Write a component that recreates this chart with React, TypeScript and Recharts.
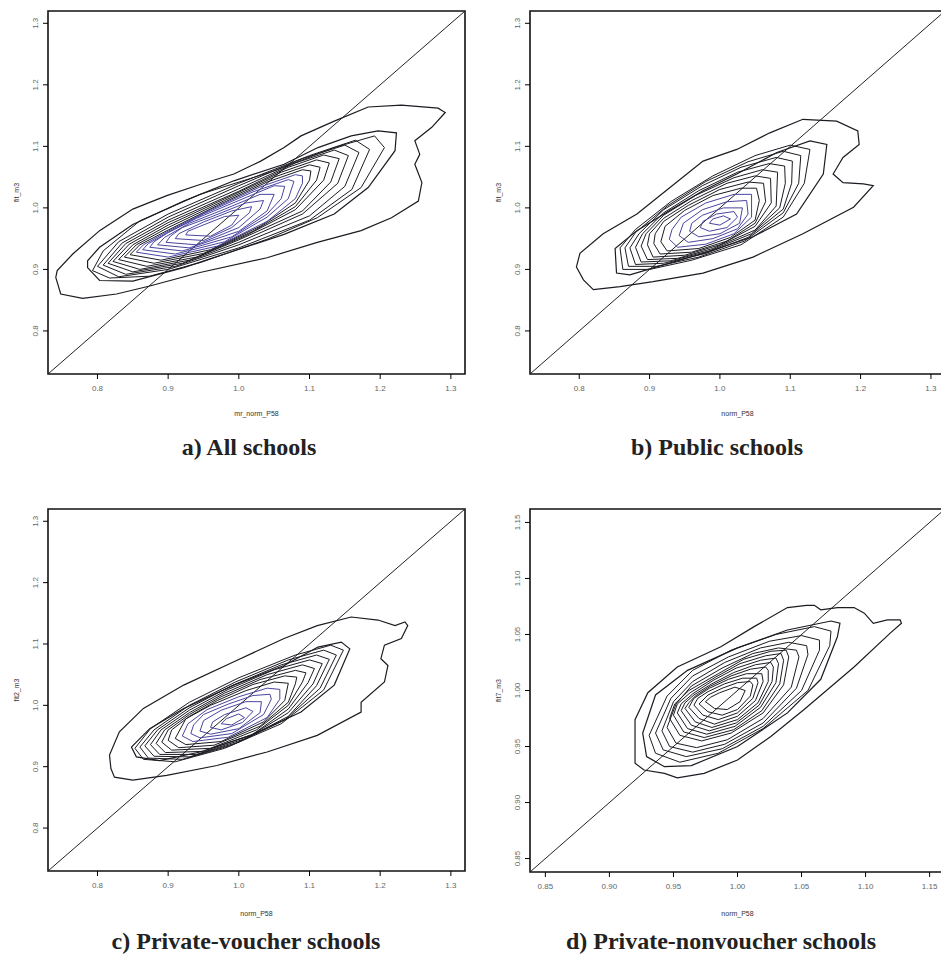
import { ScatterChart, Scatter, XAxis, YAxis, ReferenceArea, ReferenceLine } from 'recharts'

type Pt = [number, number]

// axis ticks
const ticksWide = [0.8, 0.9, 1.0, 1.1, 1.2, 1.3]
const ticksNarrow = [0.85, 0.9, 0.95, 1.0, 1.05, 1.1, 1.15]
const domainWide: [number, number] = [0.73, 1.32]
const domainNarrow: [number, number] = [0.838, 1.162]

// a) All schools - contour rings, outermost first
const a1: Pt[] = [[0.741,0.887],[0.748,0.860],[0.779,0.853],[0.827,0.860],[0.874,0.873],[0.945,0.895],[1.040,0.919],[1.111,0.944],[1.173,0.963],[1.216,0.984],[1.254,1.011],[1.259,1.041],[1.249,1.071],[1.256,1.087],[1.249,1.109],[1.273,1.131],[1.292,1.155],[1.282,1.162],[1.230,1.167],[1.183,1.164],[1.135,1.141],[1.088,1.117],[1.064,1.098],[1.031,1.076],[0.993,1.055],[0.945,1.038],[0.898,1.020],[0.850,0.998],[0.803,0.963],[0.765,0.925],[0.743,0.898]]
const a2: Pt[] = [[0.786,0.903],[0.803,0.882],[0.850,0.881],[0.922,0.903],[0.993,0.930],[1.064,0.957],[1.135,0.990],[1.183,1.033],[1.221,1.093],[1.223,1.122],[1.197,1.125],[1.159,1.117],[1.112,1.098],[1.064,1.071],[0.993,1.044],[0.922,1.011],[0.850,0.973],[0.803,0.936],[0.786,0.914]]
const a3: Pt[] = [[0.793,0.898],[0.817,0.886],[0.874,0.889],[0.945,0.911],[1.040,0.949],[1.111,0.984],[1.173,1.033],[1.206,1.098],[1.192,1.117],[1.135,1.098],[1.050,1.060],[0.945,1.022],[0.860,0.979],[0.808,0.930]]
const a4: Pt[] = [[0.800,0.905],[0.830,0.888],[0.900,0.900],[1.000,0.935],[1.100,0.980],[1.160,1.030],[1.185,1.095],[1.165,1.110],[1.100,1.085],[1.000,1.040],[0.900,0.990],[0.830,0.945]]
const a5: Pt[] = [[0.808,0.907],[0.840,0.892],[0.910,0.905],[1.000,0.940],[1.100,0.987],[1.150,1.035],[1.170,1.090],[1.150,1.102],[1.090,1.080],[1.000,1.036],[0.900,0.985],[0.835,0.943]]
const a6: Pt[] = [[0.815,0.910],[0.850,0.896],[0.920,0.910],[1.000,0.944],[1.090,0.990],[1.140,1.040],[1.155,1.085],[1.135,1.094],[1.080,1.073],[1.000,1.031],[0.900,0.980],[0.840,0.942]]
const a7: Pt[] = [[0.822,0.913],[0.860,0.900],[0.930,0.915],[1.000,0.948],[1.090,0.995],[1.130,1.042],[1.142,1.080],[1.120,1.086],[1.070,1.066],[1.000,1.027],[0.900,0.976],[0.845,0.941]]
const a8: Pt[] = [[0.830,0.916],[0.870,0.905],[0.940,0.920],[1.010,0.955],[1.080,0.997],[1.120,1.045],[1.128,1.073],[1.110,1.078],[1.060,1.058],[0.990,1.020],[0.900,0.972],[0.850,0.940]]
const a9: Pt[] = [[0.838,0.920],[0.880,0.910],[0.950,0.926],[1.020,0.962],[1.080,1.002],[1.110,1.045],[1.115,1.066],[1.100,1.070],[1.050,1.050],[0.980,1.012],[0.900,0.968],[0.855,0.940]]
const a10: Pt[] = [[0.846,0.924],[0.890,0.915],[0.960,0.932],[1.030,0.970],[1.080,1.008],[1.100,1.045],[1.102,1.060],[1.090,1.062],[1.040,1.042],[0.970,1.004],[0.900,0.964],[0.860,0.940]]
const a11: Pt[] = [[0.855,0.928],[0.900,0.920],[0.970,0.938],[1.040,0.978],[1.080,1.015],[1.090,1.040],[1.090,1.052],[1.080,1.054],[1.030,1.034],[0.960,0.997],[0.900,0.962],[0.865,0.940]]
const a12: Pt[] = [[0.864,0.932],[0.910,0.925],[0.980,0.945],[1.040,0.985],[1.070,1.015],[1.078,1.043],[1.070,1.046],[1.020,1.026],[0.950,0.990],[0.900,0.960],[0.872,0.942]]
const a13: Pt[] = [[0.874,0.936],[0.920,0.930],[0.990,0.953],[1.040,0.990],[1.060,1.015],[1.065,1.035],[1.050,1.036],[1.000,1.012],[0.940,0.983],[0.900,0.960],[0.880,0.945]]
const a14: Pt[] = [[0.885,0.940],[0.930,0.935],[1.000,0.962],[1.040,0.995],[1.050,1.022],[1.030,1.022],[0.980,0.998],[0.930,0.975],[0.895,0.952]]
const a15: Pt[] = [[0.897,0.944],[0.940,0.940],[1.000,0.968],[1.030,0.998],[1.035,1.012],[1.010,1.008],[0.960,0.985],[0.920,0.968],[0.903,0.954]]
const a16: Pt[] = [[0.910,0.950],[0.950,0.947],[0.990,0.968],[1.015,0.992],[1.018,1.002],[0.990,0.995],[0.950,0.977],[0.915,0.958]]
const a17: Pt[] = [[0.925,0.956],[0.960,0.954],[0.990,0.972],[1.000,0.988],[0.980,0.986],[0.945,0.970],[0.928,0.962]]

// b) Public schools
const b1: Pt[] = [[0.796,0.904],[0.806,0.883],[0.820,0.867],[0.858,0.872],[0.905,0.880],[0.976,0.894],[1.047,0.920],[1.118,0.958],[1.190,1.001],[1.218,1.036],[1.204,1.039],[1.175,1.041],[1.161,1.055],[1.175,1.082],[1.198,1.103],[1.196,1.125],[1.166,1.141],[1.118,1.144],[1.071,1.122],[1.024,1.095],[0.976,1.076],[0.929,1.033],[0.882,0.990],[0.834,0.958],[0.801,0.926]]
const b2: Pt[] = [[0.851,0.934],[0.853,0.894],[0.872,0.891],[0.910,0.904],[0.976,0.926],[1.047,0.953],[1.109,0.990],[1.147,1.055],[1.152,1.103],[1.128,1.109],[1.081,1.090],[1.024,1.055],[0.976,1.028],[0.929,0.996],[0.882,0.963]]
const b3: Pt[] = [[0.858,0.935],[0.862,0.900],[0.900,0.900],[0.960,0.915],[1.030,0.940],[1.090,0.985],[1.120,1.040],[1.128,1.095],[1.100,1.102],[1.050,1.085],[0.990,1.052],[0.930,1.010],[0.880,0.965]]
const b4: Pt[] = [[0.865,0.935],[0.870,0.905],[0.910,0.905],[0.970,0.920],[1.035,0.946],[1.090,0.992],[1.112,1.040],[1.115,1.085],[1.090,1.092],[1.040,1.075],[0.980,1.043],[0.925,1.003],[0.880,0.960]]
const b5: Pt[] = [[0.872,0.935],[0.880,0.908],[0.920,0.910],[0.980,0.926],[1.040,0.952],[1.090,0.998],[1.102,1.040],[1.103,1.076],[1.080,1.082],[1.030,1.066],[0.975,1.036],[0.920,0.997],[0.885,0.958]]
const b6: Pt[] = [[0.880,0.936],[0.888,0.912],[0.930,0.914],[0.985,0.930],[1.045,0.958],[1.085,1.000],[1.093,1.040],[1.092,1.068],[1.070,1.072],[1.025,1.058],[0.970,1.028],[0.920,0.992],[0.890,0.958]]
const b7: Pt[] = [[0.888,0.938],[0.897,0.916],[0.940,0.918],[0.990,0.934],[1.050,0.964],[1.080,1.003],[1.082,1.058],[1.060,1.062],[1.020,1.049],[0.965,1.020],[0.920,0.988],[0.895,0.958]]
const b8: Pt[] = [[0.897,0.940],[0.905,0.920],[0.950,0.923],[1.000,0.940],[1.050,0.970],[1.073,1.008],[1.072,1.048],[1.050,1.052],[1.010,1.040],[0.960,1.012],[0.920,0.983],[0.900,0.958]]
const b9: Pt[] = [[0.906,0.942],[0.915,0.925],[0.960,0.928],[1.010,0.946],[1.050,0.975],[1.065,1.010],[1.062,1.040],[1.040,1.042],[1.000,1.030],[0.955,1.004],[0.920,0.978],[0.908,0.958]]
const b10: Pt[] = [[0.916,0.945],[0.925,0.930],[0.970,0.934],[1.015,0.952],[1.050,0.980],[1.056,1.012],[1.052,1.032],[1.030,1.032],[0.990,1.020],[0.950,0.996],[0.922,0.970]]
const b11: Pt[] = [[0.928,0.949],[0.940,0.936],[0.980,0.941],[1.020,0.958],[1.045,0.985],[1.045,1.022],[1.020,1.022],[0.980,1.008],[0.945,0.985],[0.932,0.965]]
const b12: Pt[] = [[0.942,0.955],[0.955,0.944],[0.990,0.950],[1.025,0.966],[1.040,0.990],[1.038,1.012],[1.010,1.010],[0.975,0.997],[0.948,0.975]]
const b13: Pt[] = [[0.957,0.962],[0.970,0.953],[1.000,0.958],[1.028,0.975],[1.032,1.000],[1.005,1.000],[0.975,0.988],[0.960,0.975]]
const b14: Pt[] = [[0.972,0.968],[0.985,0.962],[1.010,0.968],[1.025,0.985],[1.020,0.994],[0.995,0.990],[0.976,0.978]]
const b15: Pt[] = [[0.985,0.975],[1.000,0.972],[1.015,0.982],[1.005,0.987],[0.990,0.982]]

// c) Private-voucher schools
const c1: Pt[] = [[0.819,0.897],[0.824,0.883],[0.850,0.878],[0.898,0.886],[0.969,0.902],[1.040,0.924],[1.111,0.951],[1.173,0.989],[1.173,1.005],[1.206,1.038],[1.211,1.065],[1.201,1.076],[1.206,1.098],[1.230,1.109],[1.239,1.130],[1.235,1.136],[1.221,1.130],[1.197,1.139],[1.159,1.144],[1.111,1.130],[1.064,1.109],[0.993,1.071],[0.922,1.033],[0.865,0.995],[0.831,0.957],[0.817,0.919]]
const c2: Pt[] = [[0.848,0.932],[0.855,0.916],[0.888,0.910],[0.945,0.924],[1.017,0.951],[1.088,0.989],[1.135,1.033],[1.157,1.092],[1.145,1.103],[1.112,1.095],[1.064,1.065],[0.993,1.033],[0.922,0.995],[0.874,0.962]]
const c3: Pt[] = [[0.853,0.930],[0.865,0.912],[0.910,0.908],[0.980,0.930],[1.060,0.970],[1.120,1.025],[1.148,1.090],[1.130,1.098],[1.080,1.082],[1.000,1.045],[0.930,1.005],[0.875,0.962]]
const c4: Pt[] = [[0.860,0.932],[0.872,0.914],[0.920,0.912],[0.990,0.935],[1.065,0.976],[1.115,1.028],[1.138,1.082],[1.120,1.090],[1.070,1.074],[0.995,1.038],[0.930,1.000],[0.880,0.960]]
const c5: Pt[] = [[0.867,0.934],[0.880,0.917],[0.930,0.916],[1.000,0.940],[1.070,0.982],[1.110,1.032],[1.128,1.075],[1.110,1.082],[1.060,1.066],[0.990,1.032],[0.930,0.996],[0.885,0.960]]
const c6: Pt[] = [[0.875,0.936],[0.888,0.920],[0.940,0.920],[1.010,0.946],[1.070,0.988],[1.105,1.035],[1.118,1.068],[1.100,1.074],[1.050,1.058],[0.985,1.026],[0.930,0.992],[0.890,0.960]]
const c7: Pt[] = [[0.883,0.938],[0.896,0.923],[0.950,0.925],[1.020,0.953],[1.070,0.994],[1.098,1.037],[1.107,1.060],[1.090,1.066],[1.040,1.050],[0.980,1.020],[0.930,0.988],[0.895,0.960]]
const c8: Pt[] = [[0.891,0.940],[0.905,0.927],[0.960,0.930],[1.025,0.960],[1.070,1.000],[1.090,1.038],[1.095,1.053],[1.080,1.057],[1.030,1.042],[0.975,1.014],[0.930,0.985],[0.900,0.960]]
const c9: Pt[] = [[0.900,0.943],[0.915,0.931],[0.965,0.935],[1.030,0.966],[1.070,1.005],[1.080,1.035],[1.082,1.046],[1.065,1.048],[1.020,1.034],[0.970,1.008],[0.930,0.982],[0.905,0.960]]
const c10: Pt[] = [[0.910,0.946],[0.925,0.936],[0.975,0.941],[1.035,0.973],[1.065,1.008],[1.070,1.036],[1.050,1.038],[1.010,1.024],[0.960,1.000],[0.925,0.978]]
const c11: Pt[] = [[0.920,0.950],[0.935,0.941],[0.985,0.948],[1.040,0.980],[1.058,1.010],[1.058,1.026],[1.040,1.028],[1.000,1.014],[0.955,0.993],[0.928,0.970]]
const c12: Pt[] = [[0.932,0.954],[0.945,0.947],[0.990,0.954],[1.035,0.985],[1.046,1.010],[1.044,1.018],[1.020,1.016],[0.985,1.002],[0.950,0.985],[0.936,0.968]]
const c13: Pt[] = [[0.945,0.958],[0.960,0.953],[1.000,0.962],[1.030,0.988],[1.032,1.006],[1.010,1.006],[0.975,0.992],[0.950,0.975]]
const c14: Pt[] = [[0.960,0.964],[0.975,0.960],[1.005,0.972],[1.020,0.990],[1.010,0.996],[0.980,0.985],[0.963,0.973]]
const c15: Pt[] = [[0.975,0.970],[0.990,0.968],[1.008,0.980],[1.000,0.986],[0.982,0.978]]

// d) Private-nonvoucher schools
const d1: Pt[] = [[0.920,0.962],[0.920,0.935],[0.927,0.929],[0.943,0.926],[0.953,0.922],[0.974,0.926],[1.000,0.938],[1.026,0.959],[1.052,0.983],[1.091,1.021],[1.119,1.051],[1.128,1.060],[1.127,1.063],[1.117,1.063],[1.106,1.060],[1.099,1.069],[1.091,1.074],[1.078,1.074],[1.065,1.072],[1.060,1.076],[1.054,1.076],[1.039,1.074],[1.013,1.057],[0.987,1.039],[0.953,1.021],[0.930,0.998],[0.920,0.974]]
const d2: Pt[] = [[0.926,0.962],[0.929,0.941],[0.943,0.932],[0.964,0.933],[1.000,0.950],[1.039,0.980],[1.065,1.010],[1.078,1.048],[1.080,1.060],[1.073,1.062],[1.039,1.054],[1.000,1.038],[0.961,1.018],[0.936,0.996]]
const d3: Pt[] = [[0.931,0.960],[0.936,0.944],[0.955,0.936],[0.985,0.944],[1.020,0.966],[1.055,1.000],[1.072,1.040],[1.073,1.053],[1.060,1.057],[1.030,1.050],[0.995,1.036],[0.965,1.018],[0.945,0.995]]
const d4: Pt[] = [[0.936,0.962],[0.942,0.947],[0.960,0.941],[0.988,0.948],[1.020,0.968],[1.050,1.000],[1.064,1.036],[1.064,1.045],[1.050,1.049],[1.025,1.044],[0.993,1.030],[0.965,1.013],[0.948,0.993]]
const d5: Pt[] = [[0.941,0.964],[0.947,0.950],[0.965,0.945],[0.990,0.952],[1.020,0.971],[1.046,1.002],[1.055,1.032],[1.054,1.040],[1.040,1.043],[1.018,1.038],[0.990,1.025],[0.965,1.008],[0.950,0.990]]
const d6: Pt[] = [[0.945,0.967],[0.952,0.953],[0.968,0.949],[0.992,0.956],[1.020,0.975],[1.042,1.003],[1.048,1.030],[1.046,1.036],[1.032,1.038],[1.012,1.033],[0.988,1.020],[0.964,1.004],[0.952,0.988]]
const d7: Pt[] = [[0.947,0.975],[0.955,0.960],[0.972,0.955],[0.995,0.962],[1.020,0.980],[1.036,1.005],[1.040,1.030],[1.038,1.036],[1.026,1.035],[1.005,1.028],[0.985,1.015],[0.962,1.000],[0.951,0.988]]
const d8: Pt[] = [[0.950,0.978],[0.958,0.963],[0.974,0.958],[0.997,0.965],[1.019,0.982],[1.033,1.006],[1.036,1.027],[1.034,1.033],[1.022,1.031],[1.002,1.024],[0.983,1.012],[0.963,0.998],[0.953,0.988]]
const d9: Pt[] = [[0.953,0.980],[0.961,0.966],[0.976,0.961],[0.998,0.968],[1.018,0.985],[1.030,1.007],[1.032,1.024],[1.030,1.029],[1.018,1.027],[0.999,1.020],[0.981,1.009],[0.965,0.997],[0.956,0.988]]
const d10: Pt[] = [[0.956,0.982],[0.964,0.969],[0.978,0.964],[0.999,0.971],[1.017,0.987],[1.027,1.008],[1.028,1.021],[1.026,1.025],[1.014,1.023],[0.997,1.016],[0.980,1.006],[0.966,0.996],[0.959,0.989]]
const d11: Pt[] = [[0.959,0.984],[0.967,0.972],[0.980,0.967],[1.000,0.974],[1.016,0.989],[1.024,1.008],[1.024,1.018],[1.022,1.021],[1.010,1.019],[0.995,1.013],[0.979,1.004],[0.967,0.995],[0.962,0.989]]
const d12: Pt[] = [[0.962,0.985],[0.970,0.975],[0.982,0.970],[1.000,0.977],[1.014,0.991],[1.020,1.008],[1.019,1.015],[1.007,1.015],[0.993,1.010],[0.978,1.002],[0.966,0.993]]
const d13: Pt[] = [[0.966,0.987],[0.973,0.978],[0.985,0.974],[1.000,0.980],[1.012,0.993],[1.016,1.007],[1.015,1.011],[1.004,1.011],[0.990,1.006],[0.977,0.999],[0.969,0.993]]
const d14: Pt[] = [[0.970,0.988],[0.977,0.981],[0.988,0.978],[1.000,0.983],[1.010,0.995],[1.012,1.005],[1.010,1.008],[1.000,1.007],[0.988,1.002],[0.977,0.996]]
const d15: Pt[] = [[0.975,0.990],[0.982,0.984],[0.992,0.983],[1.002,0.990],[1.006,1.000],[0.998,1.003],[0.986,0.998],[0.979,0.994]]

const DARK = '#1b1b22'
const BLUE = '#4a45a0'

type Contour = { pts: Pt[]; color: string; w: number }

const mk = (list: Pt[][], blueFrom: number): Contour[] =>
  list.map((pts, i) => ({ pts, color: i >= blueFrom ? BLUE : DARK, w: i < 2 ? 1.2 : 1 }))

const EmptyShape = () => <g />

function RotTick(props: any) {
  const { x, y, payload, digits } = props
  return (
    <text transform={`translate(${x},${y}) rotate(-90)`} textAnchor="middle" dy="0.35em" fontSize={8} fill="#666">
      {Number(payload.value).toFixed(digits)}
    </text>
  )
}

type PanelProps = {
  left: number
  top: number
  width: number
  height: number
  mTop: number
  mRight: number
  yW: number
  xH: number
  domain: [number, number]
  ticks: number[]
  digits: number
  xLabel: string
  yLabel: string
  contours: Contour[]
}

function Panel(p: PanelProps) {
  const [lo, hi] = p.domain
  return (
    <div style={{ position: 'absolute', left: p.left, top: p.top }}>
      <ScatterChart width={p.width} height={p.height} margin={{ top: p.mTop, right: p.mRight, left: 0, bottom: 0 }}>
        <XAxis
          type="number"
          dataKey="x"
          domain={p.domain}
          ticks={p.ticks}
          allowDataOverflow
          height={p.xH}
          axisLine={false}
          tickSize={5}
          tickMargin={6}
          tickLine={{ stroke: '#000' }}
          tick={{ fontSize: 8, fill: '#666' }}
          tickFormatter={(v: number) => v.toFixed(p.digits)}
          label={{ value: p.xLabel, position: 'insideBottom', offset: 4, fontSize: 7, fill: '#333' }}
        />
        <YAxis
          type="number"
          dataKey="y"
          domain={p.domain}
          ticks={p.ticks}
          allowDataOverflow
          width={p.yW}
          axisLine={false}
          tickSize={5}
          tickMargin={8}
          tickLine={{ stroke: '#000' }}
          tick={<RotTick digits={p.digits} />}
          label={{ value: p.yLabel, angle: -90, position: 'insideLeft', offset: p.yW - 31, fontSize: 7, fill: '#333', style: { textAnchor: 'middle' } }}
        />
        <ReferenceArea x1={lo} x2={hi} y1={lo} y2={hi} fill="none" stroke="#111" strokeWidth={1.6} ifOverflow="visible" />
        <ReferenceLine segment={[{ x: lo, y: lo }, { x: hi, y: hi }]} stroke="#222" strokeWidth={1} ifOverflow="visible" />
        {p.contours.map((c, i) => (
          <Scatter
            key={i}
            data={c.pts.map(([x, y]) => ({ x, y }))}
            line={{ stroke: c.color, strokeWidth: c.w }}
            lineJointType="linearClosed"
            shape={EmptyShape}
            isAnimationActive={false}
          />
        ))}
      </ScatterChart>
    </div>
  )
}

const captionStyle = (center: number, top: number): React.CSSProperties => ({
  position: 'absolute',
  left: center - 235,
  top,
  width: 470,
  textAlign: 'center',
  fontFamily: '"Liberation Serif", serif',
  fontWeight: 'bold',
  fontSize: 24,
  lineHeight: '24px',
  color: '#222',
})

export default function App() {
  return (
    <div style={{ position: 'absolute', left: 0, top: 0, width: 941, height: 956, overflow: 'hidden', background: '#fff', fontFamily: 'Arial, sans-serif' }}>
      <Panel left={0} top={0} width={475} height={420} mTop={11} mRight={10} yW={48} xH={46}
        domain={domainWide} ticks={ticksWide} digits={1} xLabel="mr_norm_P58" yLabel="fit_m3"
        contours={mk([a1, a2, a3, a4, a5, a6, a7, a8, a9, a10, a11, a12, a13, a14, a15, a16, a17], 10)} />
      <Panel left={470} top={0} width={481} height={420} mTop={11} mRight={6} yW={60} xH={46}
        domain={domainWide} ticks={ticksWide} digits={1} xLabel="norm_P58" yLabel="fit_m3"
        contours={mk([b1, b2, b3, b4, b5, b6, b7, b8, b9, b10, b11, b12, b13, b14, b15], 10)} />
      <Panel left={0} top={480} width={475} height={440} mTop={29} mRight={10} yW={48} xH={49}
        domain={domainWide} ticks={ticksWide} digits={1} xLabel="norm_P58" yLabel="fit2_m3"
        contours={mk([c1, c2, c3, c4, c5, c6, c7, c8, c9, c10, c11, c12, c13, c14, c15], 10)} />
      <Panel left={470} top={480} width={481} height={440} mTop={29} mRight={6} yW={60} xH={48}
        domain={domainNarrow} ticks={ticksNarrow} digits={2} xLabel="norm_P58" yLabel="fit7_m3"
        contours={mk([d1, d2, d3, d4, d5, d6, d7, d8, d9, d10, d11, d12, d13, d14, d15], 99)} />
      <div style={captionStyle(249, 435)}>a) All schools</div>
      <div style={captionStyle(717, 435)}>b) Public schools</div>
      <div style={captionStyle(246, 929)}>c) Private-voucher schools</div>
      <div style={captionStyle(721, 929)}>d) Private-nonvoucher schools</div>
    </div>
  )
}
